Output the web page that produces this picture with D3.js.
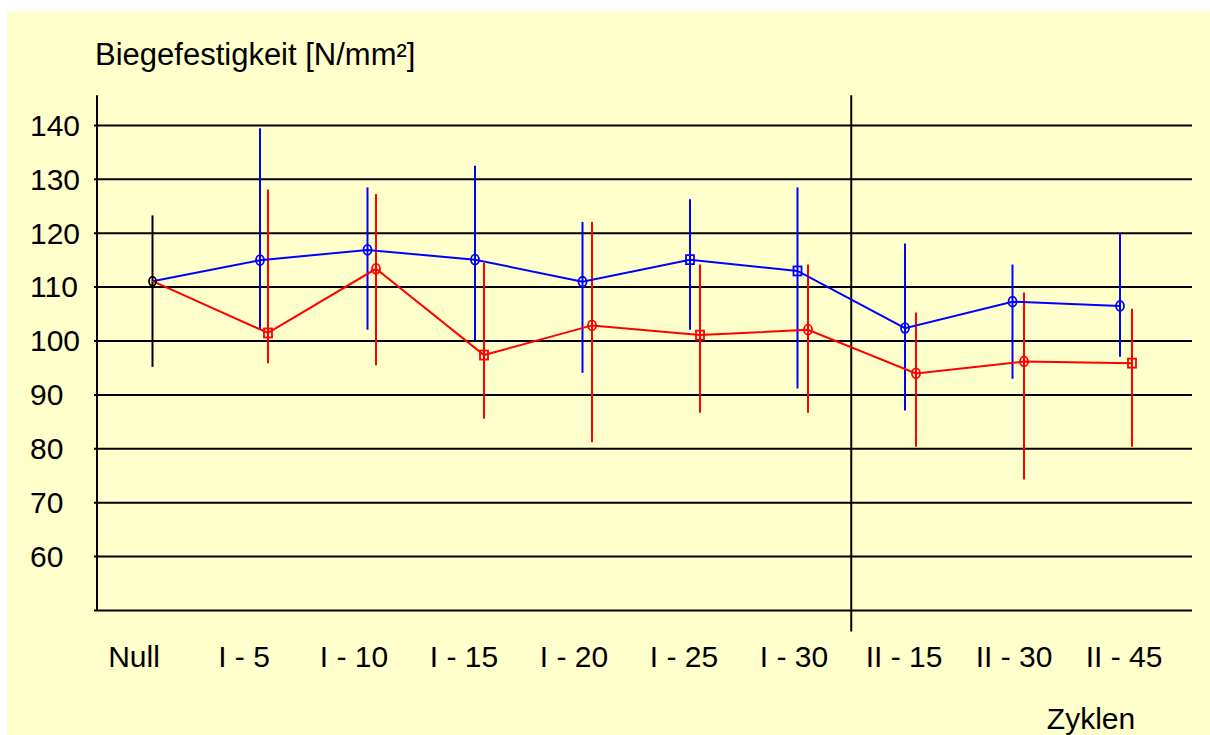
<!DOCTYPE html>
<html>
<head>
<meta charset="utf-8">
<script src="https://cdn.jsdelivr.net/npm/d3@7"></script>
<style>
  html, body { margin: 0; padding: 0; background: #ffffff; }
  svg { display: block; }
  text { font-family: "Liberation Sans", Arial, Helvetica, sans-serif; fill: #000; }
</style>
</head>
<body>
<svg id="chart" width="1210" height="735"></svg>
<script>
// ---- data ----
const categories = ["Null", "I - 5", "I - 10", "I - 15", "I - 20", "I - 25", "I - 30", "II - 15", "II - 30", "II - 45"];
const seriesCats = categories.slice(1);
const gridValues = [50, 60, 70, 80, 90, 100, 110, 120, 130, 140];
const tickLabels = ["60", "70", "80", "90", "100", "110", "120", "130", "140"];

const nullMean = 111.0;
const nullHi = 123.2;
const nullLo = 95.1;

const blueMean = [114.9, 116.8, 115.0, 110.9, 115.0, 112.9, 102.3, 107.2, 106.4];
const blueHi   = [139.4, 128.4, 132.4, 122.0, 126.2, 128.4, 118.0, 114.1, 119.9];
const blueLo   = [102.0, 102.0, 100.0, 94.0, 102.0, 91.1, 87.0, 92.9, 97.0];
const blueShape = ["o", "o", "o", "o", "s", "s", "o", "o", "o"];

const redMean = [101.4, 113.3, 97.3, 102.8, 101.0, 102.0, 93.9, 96.1, 95.8];
const redHi   = [128.0, 127.2, 114.4, 122.0, 114.1, 114.1, 105.2, 108.9, 105.9];
const redLo   = [95.8, 95.4, 85.5, 81.1, 86.6, 86.6, 80.3, 74.2, 80.3];
const redShape = ["s", "o", "s", "o", "s", "o", "o", "o", "s"];

const yTitle = "Biegefestigkeit [N/mm²]";
const xTitle = "Zyklen";

// ---- layout ----
const svg = d3.select("#chart");
const plotLeft = 97, plotRight = 1192;
const yAxisTopValue = 145.5, dividerBottomValue = 46;

svg.append("rect").attr("x", 7).attr("y", 11).attr("width", 1203).attr("height", 724).attr("fill", "#FFFFCC");

const x = d3.scalePoint().domain(categories).range([152.5, 1120]);
const xRed = d3.scalePoint().domain(categories).range([160, 1132]);
const xLab = d3.scalePoint().domain(categories).range([134, 1124]);
const y = d3.scaleLinear().domain([50, 140]).range([610, 124.9]);

// gridlines via axis
const grid = svg.append("g").attr("transform", `translate(${plotLeft - 3},0)`)
  .call(d3.axisLeft(y).tickValues(gridValues).tickSizeInner(-(plotRight - plotLeft + 3)).tickSizeOuter(0).tickFormat(""));
grid.select(".domain").remove();
grid.selectAll(".tick line").attr("stroke", "#000").attr("stroke-width", 2);

// y tick labels (left aligned)
svg.append("g").selectAll("text").data(tickLabels).join("text")
  .attr("x", 30)
  .attr("y", d => y(+d))
  .attr("dy", "0.36em")
  .attr("font-size", 30)
  .text(d => d);

// y axis line
svg.append("line")
  .attr("x1", plotLeft).attr("x2", plotLeft)
  .attr("y1", y(yAxisTopValue)).attr("y2", y(50))
  .attr("stroke", "#000").attr("stroke-width", 2);

// divider between I and II
const divX = (x("I - 30") + x("II - 15")) / 2;
svg.append("line")
  .attr("x1", divX).attr("x2", divX)
  .attr("y1", y(yAxisTopValue)).attr("y2", y(dividerBottomValue))
  .attr("stroke", "#000").attr("stroke-width", 2);

// x labels
svg.append("g").selectAll("text").data(categories).join("text")
  .attr("x", d => xLab(d))
  .attr("y", 667)
  .attr("text-anchor", "middle")
  .attr("font-size", 30)
  .text(d => d);

// titles
svg.append("text").attr("x", 95).attr("y", 65).attr("font-size", 31).text(yTitle);
svg.append("text").attr("x", 1091).attr("y", 729).attr("text-anchor", "middle").attr("font-size", 30).text(xTitle);

// error bars
function errorBars(xs, cats, hi, lo, color) {
  svg.append("g").selectAll("line").data(cats).join("line")
    .attr("x1", d => xs(d)).attr("x2", d => xs(d))
    .attr("y1", (d, i) => y(hi[i])).attr("y2", (d, i) => y(lo[i]))
    .attr("stroke", color).attr("stroke-width", 2);
}
svg.append("line")
  .attr("x1", x("Null")).attr("x2", x("Null"))
  .attr("y1", y(nullHi)).attr("y2", y(nullLo))
  .attr("stroke", "#000").attr("stroke-width", 2);
errorBars(x, seriesCats, blueHi, blueLo, "#0000FF");
errorBars(xRed, seriesCats, redHi, redLo, "#FF0000");

// lines
const lineGen = d3.line().x(d => d[0]).y(d => d[1]);
function seriesPts(xs, mean) {
  return [[x("Null"), y(nullMean)]].concat(seriesCats.map((c, i) => [xs(c), y(mean[i])]));
}
svg.append("path").attr("d", lineGen(seriesPts(x, blueMean))).attr("fill", "none").attr("stroke", "#0000FF").attr("stroke-width", 2);
svg.append("path").attr("d", lineGen(seriesPts(xRed, redMean))).attr("fill", "none").attr("stroke", "#FF0000").attr("stroke-width", 2);

// markers
function markers(xs, mean, shapes, color) {
  const g = svg.append("g");
  seriesCats.forEach((c, i) => {
    const cx = xs(c), cy = y(mean[i]);
    if (shapes[i] === "s") {
      g.append("rect").attr("x", cx - 4).attr("y", cy - 4.5).attr("width", 8).attr("height", 9)
        .attr("fill", "none").attr("stroke", color).attr("stroke-width", 1.8);
    } else {
      g.append("ellipse").attr("cx", cx).attr("cy", cy).attr("rx", 4).attr("ry", 5)
        .attr("fill", "none").attr("stroke", color).attr("stroke-width", 1.8);
    }
  });
}
svg.append("ellipse").attr("cx", x("Null")).attr("cy", y(nullMean)).attr("rx", 3.5).attr("ry", 4.5)
  .attr("fill", "none").attr("stroke", "#000").attr("stroke-width", 1.8);
markers(x, blueMean, blueShape, "#0000FF");
markers(xRed, redMean, redShape, "#FF0000");
</script>
</body>
</html>
